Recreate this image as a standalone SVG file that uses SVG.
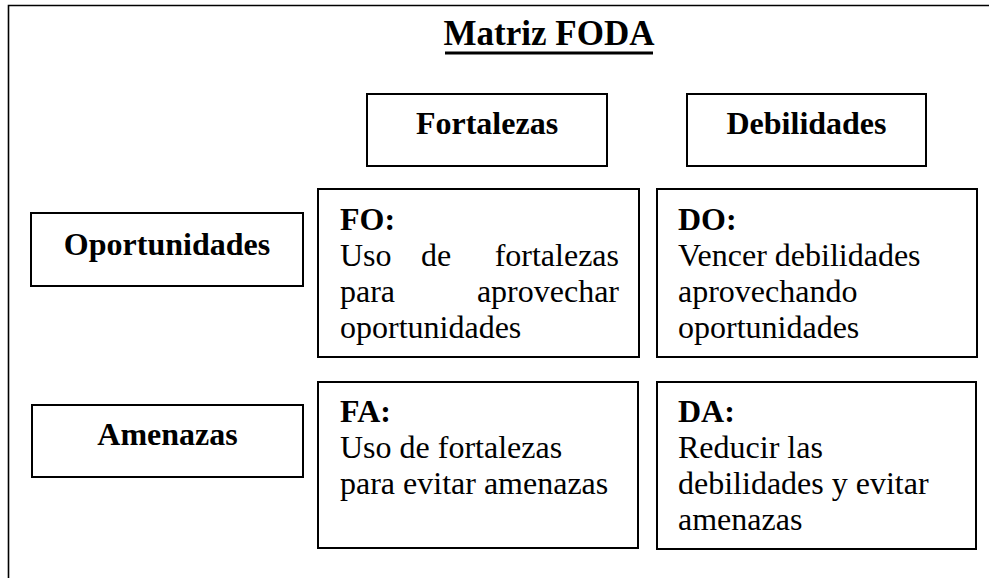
<svg xmlns="http://www.w3.org/2000/svg" width="989" height="578" viewBox="0 0 989 578">
<style>
.box{fill:#fff;stroke:#000;stroke-width:2}
.frame{fill:none;stroke:#000;stroke-width:1.6}
text{font-family:"Liberation Serif","Times New Roman",serif;fill:#000}
.lbl{font-size:32px;font-weight:bold;text-anchor:middle}
.hd{font-size:32px;font-weight:bold}
.tx{font-size:32px}
.title{font-size:35px;font-weight:bold;text-anchor:middle}
</style>
<rect width="989" height="578" fill="#fff"/>
<g id="frame"><path class="frame" d="M8.5,578 V5.5 H989"/></g>
<g id="title">
<text class="title" x="549" y="45">Matriz FODA</text>
<rect x="445" y="51.5" width="208" height="3" fill="#000"/>
</g>
<g id="fortalezas"><rect class="box" x="367" y="94" width="240" height="72"/><text class="lbl" x="487" y="134">Fortalezas</text></g>
<g id="debilidades"><rect class="box" x="687" y="94" width="239" height="72"/><text class="lbl" x="806.5" y="134">Debilidades</text></g>
<g id="oportunidades"><rect class="box" x="31" y="213" width="272" height="73"/><text class="lbl" x="167" y="255">Oportunidades</text></g>
<g id="amenazas"><rect class="box" x="32" y="405" width="271" height="72"/><text class="lbl" x="167.5" y="445">Amenazas</text></g>
<g id="fo"><rect class="box" x="318" y="189" width="321" height="168"/>
<text class="hd" x="340" y="230">FO:</text>
<text class="tx" x="340" y="266">Uso</text><text class="tx" x="421" y="266">de</text><text class="tx" x="619" y="266" text-anchor="end">fortalezas</text>
<text class="tx" x="340" y="302">para</text><text class="tx" x="619" y="302" text-anchor="end">aprovechar</text>
<text class="tx" x="340" y="338">oportunidades</text>
</g>
<g id="do"><rect class="box" x="657" y="189" width="320" height="168"/>
<text class="hd" x="678" y="230">DO:</text>
<text class="tx" x="678" y="266">Vencer debilidades</text>
<text class="tx" x="678" y="302">aprovechando</text>
<text class="tx" x="678" y="338">oportunidades</text>
</g>
<g id="fa"><rect class="box" x="318" y="382" width="320" height="166"/>
<text class="hd" x="340" y="422">FA:</text>
<text class="tx" x="340" y="458">Uso de fortalezas</text>
<text class="tx" x="340" y="494">para evitar amenazas</text>
</g>
<g id="da"><rect class="box" x="657" y="382" width="319" height="167"/>
<text class="hd" x="678" y="422">DA:</text>
<text class="tx" x="678" y="458">Reducir las</text>
<text class="tx" x="678" y="494">debilidades y evitar</text>
<text class="tx" x="678" y="530">amenazas</text>
</g>
<g id="connectors"/>
</svg>
